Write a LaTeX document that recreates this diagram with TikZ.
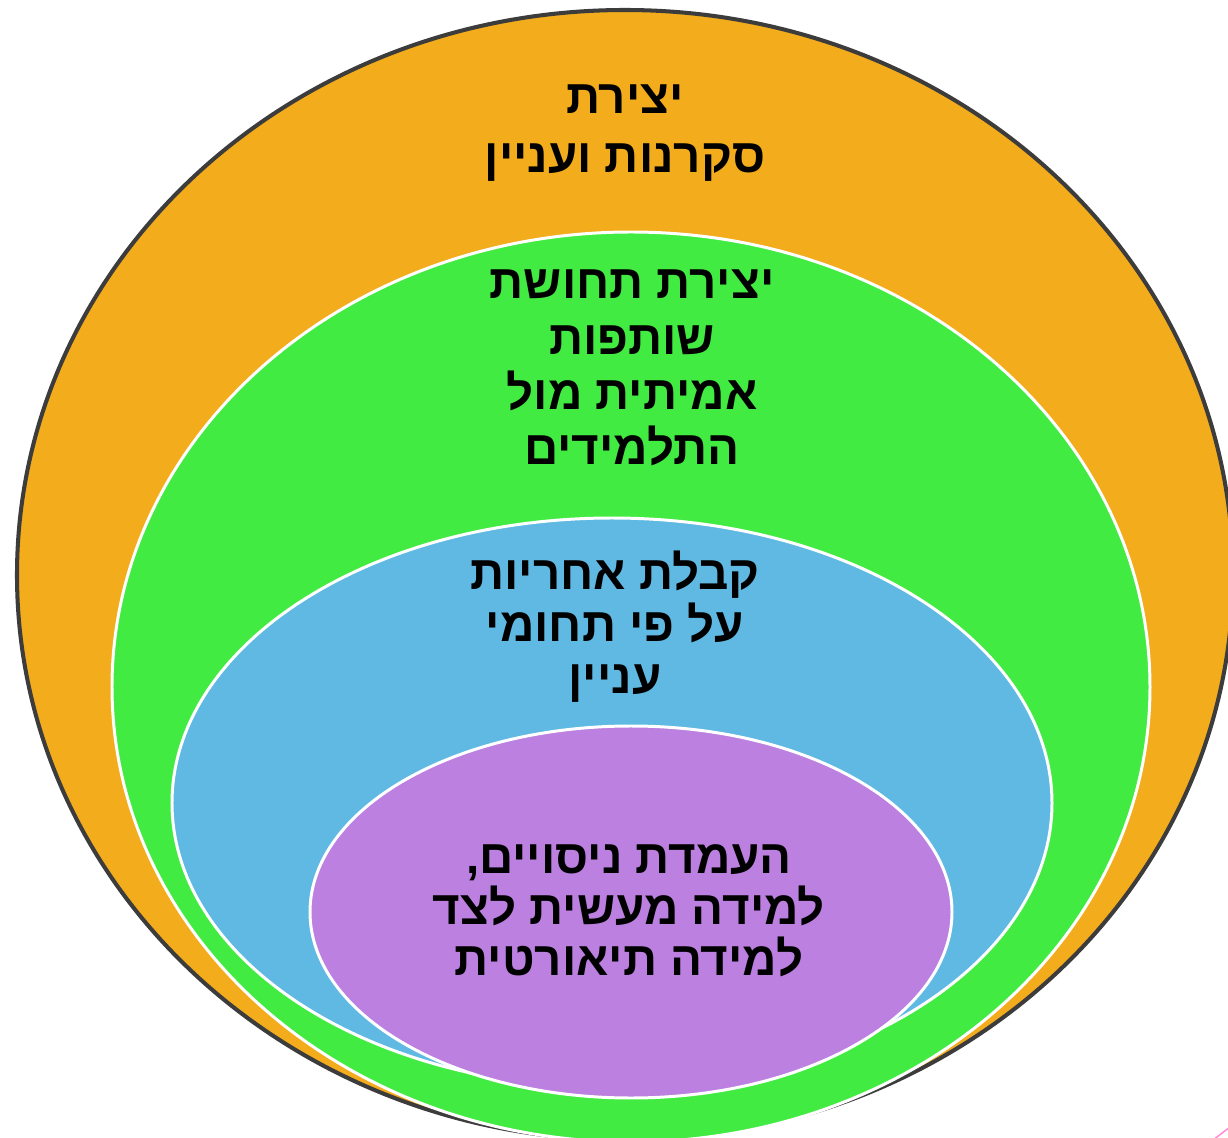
\documentclass[tikz,border=0pt]{standalone}
\usepackage{fontspec}
\newfontfamily\hebfont[Script=Hebrew]{Liberation Sans}
\TeXXeTstate=1
\definecolor{ringorange}{HTML}{F2AC1C}
\definecolor{ringgreen}{HTML}{42EB42}
\definecolor{ringblue}{HTML}{5FB9E2}
\definecolor{ringpurple}{HTML}{BB80E0}
\definecolor{rimgray}{HTML}{3C3C3C}
\tikzset{
  ring/.style={draw=white, line width=1.7pt},
  label/.style={align=center, font=\hebfont\bfseries\fontsize{27}{#1}\selectfont, inner sep=0pt},
}

\begin{document}
\begin{tikzpicture}[x=0.02cm, y=-0.02cm]
    \useasboundingbox (0,0) rectangle (1228,1138);
    \clip (0,0) rectangle (1228,1138);
    \draw[fill=ringorange, draw=rimgray, line width=2.3pt] (625,575) ellipse [x radius=608, y radius=565];
    \draw[ring, fill=ringgreen]  (631,687) ellipse [x radius=519, y radius=455];
    \draw[ring, fill=ringblue]   (612,803) ellipse [x radius=440, y radius=285];
    \draw[ring, fill=ringpurple] (631,912) ellipse [x radius=321, y radius=186];
    \draw[pink!70!magenta, line width=0.8pt] (1213,1140) -- (1230,1127);
    \node[label=34pt] (curiosity) at (625,133) {\beginR יצירת\endR\\ \beginR סקרנות ועניין\endR};
    \node[label=31.5pt] (partnership) at (632,368) {\beginR יצירת תחושת\endR\\ \beginR שותפות\endR\\ \beginR אמיתית מול\endR\\ \beginR התלמידים\endR};
    \node[label=29.5pt] (responsibility) at (615,627) {\beginR קבלת אחריות\endR\\ \beginR על פי תחומי\endR\\ \beginR עניין\endR};
    \node[label=29pt] (experiments) at (629,911) {\beginR העמדת ניסויים,\endR\\ \beginR למידה מעשית לצד\endR\\ \beginR למידה תיאורטית\endR};
\end{tikzpicture}
\end{document}
